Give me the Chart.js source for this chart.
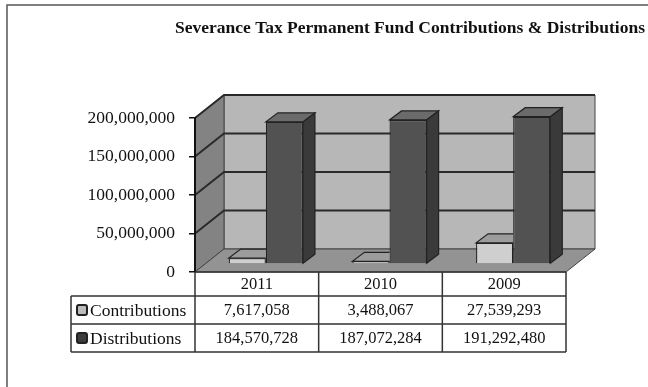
<!DOCTYPE html>
<html><head><meta charset="utf-8">
<script src="https://cdn.jsdelivr.net/npm/chart.js@4/dist/chart.umd.min.js"></script>
<style>html,body{margin:0;padding:0;background:#fff;}canvas{display:block;}</style>
</head><body>
<canvas id="c" width="648" height="387"></canvas>
<script>
const chartTitle = 'Severance Tax Permanent Fund Contributions & Distributions';
const categories = ['2011', '2010', '2009'];
const seriesNames = ['Contributions', 'Distributions'];
const contributions = [7617058, 3488067, 27539293];
const distributions = [184570728, 187072284, 191292480];
const yTicks = [0, 50000000, 100000000, 150000000, 200000000];

const SERIF = '"Liberation Serif", "Times New Roman", serif';
const DEPTH = {x: 29, y: -23};
const BAR_OFF = {x: 9, y: -8};
const BAR_DEPTH = {x: 12, y: -9};
const fmt = v => Number(v).toLocaleString('en-US');

function poly(ctx, pts, fill, stroke, lw) {
  ctx.beginPath();
  ctx.moveTo(pts[0][0], pts[0][1]);
  for (let i = 1; i < pts.length; i++) ctx.lineTo(pts[i][0], pts[i][1]);
  ctx.closePath();
  if (fill) { ctx.fillStyle = fill; ctx.fill(); }
  if (stroke) { ctx.strokeStyle = stroke; ctx.lineWidth = lw || 1; ctx.stroke(); }
}

const threeD = {
  id: 'threeD',
  beforeDraw(chart) {
    const ctx = chart.ctx, a = chart.chartArea, y = chart.scales.y;
    ctx.save();
    // frame
    ctx.strokeStyle = '#555'; ctx.lineWidth = 1.5;
    ctx.beginPath(); ctx.moveTo(7, 387); ctx.lineTo(7, 5); ctx.lineTo(648, 5); ctx.stroke();
    const L = a.left, R = a.right, T = a.top, B = a.bottom, dx = DEPTH.x, dy = DEPTH.y;
    // back wall
    poly(ctx, [[L+dx, T+dy], [R+dx, T+dy], [R+dx, B+dy], [L+dx, B+dy]], '#b7b7b7', '#444', 1);
    // left wall
    poly(ctx, [[L, T], [L+dx, T+dy], [L+dx, B+dy], [L, B]], '#838383', '#444', 1);
    // floor
    poly(ctx, [[L, B], [R, B], [R+dx, B+dy], [L+dx, B+dy]], '#939393', '#444', 1);
    // gridlines on walls
    ctx.strokeStyle = '#2a2a2a'; ctx.lineWidth = 2;
    yTicks.forEach(v => {
      if (v === 0) return;
      const py = y.getPixelForValue(v);
      ctx.beginPath();
      ctx.moveTo(L, py); ctx.lineTo(L+dx, py+dy); ctx.lineTo(R+dx, py+dy);
      ctx.stroke();
    });
    ctx.restore();
  },
  beforeDatasetsDraw(chart) {
    chart.ctx.save();
    chart.ctx.translate(BAR_OFF.x, BAR_OFF.y);
  },
  afterDatasetsDraw(chart) {
    const ctx = chart.ctx;
    const m0 = chart.getDatasetMeta(0).data, m1 = chart.getDatasetMeta(1).data;
    const bx = BAR_DEPTH.x, by = BAR_DEPTH.y;
    for (let i = 0; i < categories.length; i++) {
      const c = m0[i], d = m1[i];
      const cl = c.x - c.width/2, cr = c.x + c.width/2;
      ctx.save();
      ctx.beginPath(); ctx.rect(0, 0, cr, 400); ctx.clip();
      poly(ctx, [[cl, c.y], [cr, c.y], [cr+bx, c.y+by], [cl+bx, c.y+by]], '#9c9c9c', '#222', 1.2);
      ctx.restore();
      const dl = d.x - d.width/2, dr = d.x + d.width/2;
      poly(ctx, [[dl, d.y], [dr, d.y], [dr+bx, d.y+by], [dl+bx, d.y+by]], '#6b6b6b', '#222', 1.2);
      poly(ctx, [[dr, d.y], [dr+bx, d.y+by], [dr+bx, d.base+by], [dr, d.base]], '#3a3a3a', '#222', 1.2);
    }
    ctx.restore();
  },
  afterDraw(chart) {
    const ctx = chart.ctx, a = chart.chartArea, xs = chart.scales.x;
    ctx.save();
    // title
    ctx.fillStyle = '#111';
    ctx.font = 'bold 17.5px ' + SERIF;
    ctx.textAlign = 'left'; ctx.textBaseline = 'middle';
    ctx.fillText(chartTitle, 175, 28);
    // table
    const cw = (a.right - a.left) / categories.length;
    const rows = [272, 296, 324, 352];
    const legL = 71;
    ctx.strokeStyle = '#333'; ctx.lineWidth = 1.5;
    ctx.beginPath();
    ctx.moveTo(a.left, rows[0]); ctx.lineTo(a.right, rows[0]);
    ctx.moveTo(legL, rows[1]); ctx.lineTo(a.right, rows[1]);
    ctx.moveTo(legL, rows[2]); ctx.lineTo(a.right, rows[2]);
    ctx.moveTo(legL, rows[3]); ctx.lineTo(a.right, rows[3]);
    ctx.moveTo(legL, rows[1]); ctx.lineTo(legL, rows[3]);
    for (let i = 0; i <= categories.length; i++) {
      const x = a.left + i * cw;
      ctx.moveTo(x, rows[0]); ctx.lineTo(x, rows[3]);
    }
    ctx.stroke();
    ctx.font = '16.5px ' + SERIF;
    ctx.textAlign = 'center'; ctx.textBaseline = 'middle';
    ctx.fillStyle = '#111';
    const series = [contributions, distributions];
    categories.forEach((cat, i) => {
      const cx = xs.getPixelForValue(i);
      ctx.fillText(cat, cx, (rows[0]+rows[1])/2 + 1);
      series.forEach((s, k) => ctx.fillText(fmt(s[i]), cx, (rows[k+1]+rows[k+2])/2 + 1));
    });
    const iconFill = ['#bdbdbd', '#3c3c3c'];
    ctx.font = '17.5px ' + SERIF;
    seriesNames.forEach((n, k) => {
      const cy = (rows[k+1]+rows[k+2])/2;
      ctx.beginPath();
      ctx.roundRect(77, cy-5, 10, 10, 2);
      ctx.fillStyle = iconFill[k]; ctx.fill();
      ctx.strokeStyle = '#222'; ctx.lineWidth = 2; ctx.stroke();
      ctx.fillStyle = '#111'; ctx.textAlign = 'left';
      ctx.fillText(n, 90, cy + 1);
    });
    ctx.restore();
  }
};

new Chart(document.getElementById('c'), {
  type: 'bar',
  data: {
    labels: categories,
    datasets: [
      {label: seriesNames[0], data: contributions, backgroundColor: '#cfcfcf', borderColor: '#222', borderWidth: 1.2, barPercentage: 1, categoryPercentage: 0.6, clip: false},
      {label: seriesNames[1], data: distributions, backgroundColor: '#525252', borderColor: '#222', borderWidth: 1.2, barPercentage: 1, categoryPercentage: 0.6, clip: false}
    ]
  },
  options: {
    responsive: false, animation: false, devicePixelRatio: 1,
    layout: {padding: {left: 0, right: 648 - 566, top: 118, bottom: 387 - 272}},
    plugins: {legend: {display: false}, tooltip: {enabled: false}, title: {display: false}},
    scales: {
      x: {display: false},
      y: {
        min: 0, max: 200000000,
        afterBuildTicks: s => { s.ticks = yTicks.map(v => ({value: v})); },
        afterFit: s => { s.width = 195; },
        ticks: {font: {family: SERIF, size: 17.5}, color: '#111', padding: 14, callback: v => fmt(v)},
        grid: {drawOnChartArea: false, drawTicks: true, tickLength: 6, color: '#111', lineWidth: 1.5},
        border: {display: true, color: '#111', width: 2}
      }
    }
  },
  plugins: [threeD]
});
</script>
</body></html>
